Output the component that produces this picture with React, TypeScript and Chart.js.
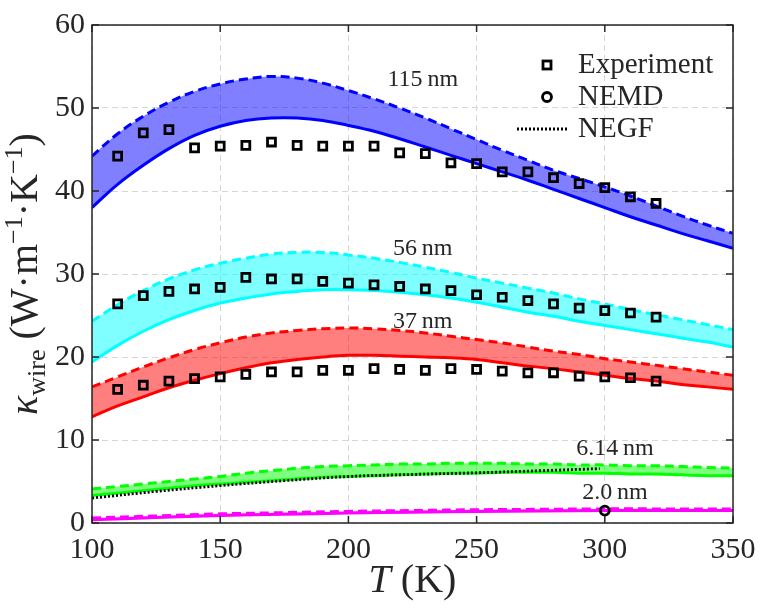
import React, { useEffect, useRef } from "react";
import { Chart, registerables } from "chart.js";
Chart.register(...registerables);

// ---- data ----
const T_GRID = [100, 110, 120, 130, 140, 150, 160, 170, 180, 190, 200, 210, 220, 230, 240, 250, 260, 270, 280, 290, 300, 310, 320, 330, 340, 350];

const K115_UPPER = [44.2, 46.9, 49.0, 50.7, 52.0, 52.9, 53.5, 53.8, 53.6, 53.0, 52.1, 51.1, 50.0, 48.8, 47.5, 46.2, 44.9, 43.7, 42.5, 41.5, 40.5, 39.4, 38.2, 37.0, 35.9, 34.9];
const K115_LOWER = [38.0, 40.8, 43.1, 45.1, 46.7, 47.8, 48.5, 48.8, 48.8, 48.5, 47.9, 47.2, 46.3, 45.3, 44.3, 43.3, 42.3, 41.3, 40.2, 39.1, 38.0, 36.9, 35.9, 34.9, 34.0, 33.1];

const K56_UPPER = [24.3, 26.3, 28.0, 29.4, 30.5, 31.3, 31.9, 32.4, 32.6, 32.6, 32.3, 31.9, 31.4, 30.8, 30.2, 29.5, 28.9, 28.3, 27.7, 27.0, 26.4, 25.7, 25.1, 24.5, 23.9, 23.3];
const K56_LOWER = [19.4, 21.4, 23.1, 24.5, 25.6, 26.5, 27.1, 27.6, 27.9, 28.1, 28.1, 28.0, 27.8, 27.5, 27.1, 26.6, 26.0, 25.4, 24.9, 24.3, 23.8, 23.3, 22.8, 22.3, 21.8, 21.2];

const K37_UPPER = [16.4, 17.6, 18.8, 19.9, 20.9, 21.7, 22.4, 22.9, 23.2, 23.4, 23.5, 23.4, 23.2, 22.9, 22.5, 22.1, 21.7, 21.2, 20.7, 20.3, 19.8, 19.4, 19.0, 18.6, 18.2, 17.8];
const K37_LOWER = [12.8, 14.1, 15.2, 16.3, 17.2, 18.0, 18.7, 19.3, 19.7, 20.0, 20.2, 20.2, 20.1, 20.0, 19.9, 19.7, 19.3, 18.9, 18.6, 18.2, 17.8, 17.4, 17.1, 16.7, 16.4, 16.1];

const K614_UPPER = [4.1, 4.4, 4.7, 5.0, 5.3, 5.6, 6.0, 6.3, 6.6, 6.8, 6.9, 7.0, 7.1, 7.1, 7.2, 7.2, 7.2, 7.1, 7.1, 7.0, 7.0, 6.9, 6.9, 6.8, 6.7, 6.6];
const K614_LOWER = [3.3, 3.6, 3.9, 4.2, 4.5, 4.7, 4.9, 5.1, 5.3, 5.5, 5.6, 5.7, 5.8, 5.9, 6.0, 6.0, 6.1, 6.1, 6.1, 6.0, 6.0, 5.9, 5.9, 5.8, 5.7, 5.7];

const T_2NM = [100, 125, 150, 175, 200, 225, 250, 275, 300, 325, 350];
const K2_UPPER = [0.6, 0.85, 1.1, 1.25, 1.4, 1.5, 1.6, 1.65, 1.7, 1.7, 1.7];
const K2_LOWER = [0.4, 0.65, 0.9, 1.05, 1.2, 1.3, 1.4, 1.45, 1.5, 1.5, 1.5];

const T_NEGF = [100, 125, 150, 175, 200, 225, 250, 275, 298];
const K_NEGF = [3.0, 3.8, 4.5, 5.1, 5.6, 5.85, 6.05, 6.3, 6.55];

const T_EXP = [110, 120, 130, 140, 150, 160, 170, 180, 190, 200, 210, 220, 230, 240, 250, 260, 270, 280, 290, 300, 310, 320];
const EXP_115 = [44.2, 47.0, 47.4, 45.2, 45.4, 45.5, 45.9, 45.5, 45.4, 45.4, 45.4, 44.6, 44.5, 43.4, 43.3, 42.3, 42.3, 41.6, 40.9, 40.4, 39.3, 38.5];
const EXP_56 = [26.4, 27.4, 27.9, 28.2, 28.4, 29.6, 29.4, 29.4, 29.1, 28.9, 28.7, 28.5, 28.2, 28.0, 27.5, 27.2, 26.8, 26.4, 25.9, 25.6, 25.3, 24.8];
const EXP_37 = [16.1, 16.6, 17.1, 17.4, 17.6, 17.9, 18.2, 18.2, 18.4, 18.4, 18.6, 18.5, 18.4, 18.6, 18.5, 18.3, 18.1, 18.1, 17.7, 17.6, 17.5, 17.1];

const T_NEMD = [300];
const K_NEMD = [1.5];

const X_TICKS = [100, 150, 200, 250, 300, 350];
const Y_TICKS = [0, 10, 20, 30, 40, 50, 60];

const LABELS = ["115\u2009nm", "56\u2009nm", "37\u2009nm", "6.14\u2009nm", "2.0\u2009nm"];
const LABEL_T = [229, 229, 229, 304, 304];
const LABEL_K = [53.4, 33.1, 24.3, 8.9, 3.6];

const LEGEND_NAMES = ["Experiment", "NEMD", "NEGF"];

// ---- styling ----
const FONT = '"Liberation Serif", "Times New Roman", serif';
const INK = "#262626";

const pts = (xs: number[], ys: number[]) => xs.map((x, i) => ({ x, y: ys[i] }));

function band(xs: number[], up: number[], lo: number[], color: string, fill: string, order: number) {
  return [
    {
      type: "line",
      data: pts(xs, up),
      borderColor: color,
      borderWidth: 3,
      borderDash: [9, 5],
      pointRadius: 0,
      fill: false,
      tension: 0.4,
      order,
    },
    {
      type: "line",
      data: pts(xs, lo),
      borderColor: color,
      backgroundColor: fill,
      borderWidth: 3,
      pointRadius: 0,
      fill: "-1",
      tension: 0.4,
      order: order + 1,
    },
  ];
}

function drawRich(ctx: CanvasRenderingContext2D, parts: any[]) {
  let total = 0;
  for (const p of parts) {
    ctx.font = `${p.italic ? "italic " : ""}${p.size}px ${FONT}`;
    p.w = ctx.measureText(p.t).width;
    total += p.w;
  }
  let x = -total / 2;
  for (const p of parts) {
    ctx.font = `${p.italic ? "italic " : ""}${p.size}px ${FONT}`;
    ctx.fillText(p.t, x, p.dy || 0);
    x += p.w;
  }
}

const decor = {
  id: "decor",
  afterDraw(chart: any) {
    const { ctx, chartArea: a, scales } = chart;
    const xs = scales.x;
    const ys = scales.y;
    ctx.save();
    // frame
    ctx.strokeStyle = INK;
    ctx.lineWidth = 1.5;
    ctx.setLineDash([]);
    ctx.strokeRect(a.left, a.top, a.right - a.left, a.bottom - a.top);
    // inward ticks
    ctx.beginPath();
    for (const v of X_TICKS) {
      const px = xs.getPixelForValue(v);
      ctx.moveTo(px, a.bottom);
      ctx.lineTo(px, a.bottom - 7);
      ctx.moveTo(px, a.top);
      ctx.lineTo(px, a.top + 7);
    }
    for (const v of Y_TICKS) {
      const py = ys.getPixelForValue(v);
      ctx.moveTo(a.left, py);
      ctx.lineTo(a.left + 7, py);
      ctx.moveTo(a.right, py);
      ctx.lineTo(a.right - 7, py);
    }
    ctx.stroke();

    // curve labels
    ctx.fillStyle = INK;
    ctx.font = `24px ${FONT}`;
    ctx.textAlign = "center";
    ctx.textBaseline = "middle";
    LABELS.forEach((s, i) => {
      ctx.fillText(s, xs.getPixelForValue(LABEL_T[i]), ys.getPixelForValue(LABEL_K[i]));
    });

    // legend
    ctx.textAlign = "left";
    ctx.font = `29px ${FONT}`;
    ctx.fillStyle = INK;
    const lx = 547;
    const rows = [65, 97, 129];
    LEGEND_NAMES.forEach((s, i) => ctx.fillText(s, 578, rows[i]));
    ctx.strokeStyle = "#000";
    ctx.lineWidth = 2.8;
    ctx.strokeRect(lx - 4, rows[0] - 4, 8, 8);
    ctx.beginPath();
    ctx.arc(lx, rows[1], 4.5, 0, Math.PI * 2);
    ctx.stroke();
    ctx.setLineDash([2, 2]);
    ctx.beginPath();
    ctx.moveTo(517, rows[2]);
    ctx.lineTo(568, rows[2]);
    ctx.stroke();
    ctx.setLineDash([]);

    // x title
    ctx.fillStyle = INK;
    ctx.textBaseline = "alphabetic";
    ctx.save();
    ctx.translate((a.left + a.right) / 2, 592);
    drawRich(ctx, [
      { t: "T", size: 40, italic: true },
      { t: " (K)", size: 40 },
    ]);
    ctx.restore();

    // y title
    ctx.save();
    ctx.translate(37, (a.top + a.bottom) / 2);
    ctx.rotate(-Math.PI / 2);
    drawRich(ctx, [
      { t: "\u03ba", size: 40, italic: true },
      { t: "wire", size: 26, dy: 8 },
      { t: " (W\u00b7m", size: 40 },
      { t: "\u22121", size: 26, dy: -15 },
      { t: "\u00b7K", size: 40 },
      { t: "\u22121", size: 26, dy: -15 },
      { t: ")", size: 40 },
    ]);
    ctx.restore();

    ctx.restore();
  },
};

function expSet(ys: number[]) {
  return {
    type: "line",
    data: pts(T_EXP, ys),
    showLine: false,
    pointStyle: "rect",
    pointRadius: 5.6,
    borderColor: "#000",
    backgroundColor: "rgba(0,0,0,0)",
    pointBorderWidth: 2.8,
    order: 0,
  };
}

export default function App() {
  const ref = useRef<HTMLCanvasElement | null>(null);
  useEffect(() => {
    if (!ref.current) return;
    const datasets: any[] = [
      expSet(EXP_115),
      expSet(EXP_56),
      expSet(EXP_37),
      {
        type: "line",
        data: pts(T_NEMD, K_NEMD),
        showLine: false,
        pointStyle: "circle",
        pointRadius: 4.5,
        borderColor: "#000",
        backgroundColor: "rgba(0,0,0,0)",
        pointBorderWidth: 2.8,
        order: 0,
      },
      {
        type: "line",
        data: pts(T_NEGF, K_NEGF),
        borderColor: "#000",
        borderWidth: 2.8,
        borderDash: [2, 2],
        pointRadius: 0,
        fill: false,
        tension: 0.4,
        order: 1,
      },
      ...band(T_GRID, K115_UPPER, K115_LOWER, "#0000ff", "rgba(0,0,255,0.5)", 10),
      ...band(T_GRID, K56_UPPER, K56_LOWER, "#00ffff", "rgba(0,255,255,0.5)", 12),
      ...band(T_GRID, K37_UPPER, K37_LOWER, "#ff0000", "rgba(255,0,0,0.5)", 14),
      ...band(T_GRID, K614_UPPER, K614_LOWER, "#00ff00", "rgba(0,255,0,0.5)", 16),
      ...band(T_2NM, K2_UPPER, K2_LOWER, "#ff00ff", "rgba(255,0,255,0.5)", 18),
    ];
    const chart = new Chart(ref.current, {
      type: "line",
      data: { datasets },
      options: {
        responsive: false,
        animation: false,
        devicePixelRatio: 1,
        layout: { padding: { left: 0, top: 25, right: 34, bottom: 0 } },
        plugins: { legend: { display: false }, tooltip: { enabled: false } },
        scales: {
          x: {
            type: "linear",
            min: 100,
            max: 350,
            afterFit: (s: any) => {
              s.height = 90;
            },
            afterBuildTicks: (s: any) => {
              s.ticks = X_TICKS.map((v) => ({ value: v }));
            },
            ticks: { font: { family: FONT, size: 30 }, color: INK, padding: 9, maxRotation: 0 },
            grid: { color: "#d6d6d6", lineWidth: 1, drawTicks: false },
            border: { display: false, dash: [6, 4] },
          },
          y: {
            type: "linear",
            min: 0,
            max: 60,
            afterFit: (s: any) => {
              s.width = 92;
            },
            afterBuildTicks: (s: any) => {
              s.ticks = Y_TICKS.map((v) => ({ value: v }));
            },
            ticks: { font: { family: FONT, size: 30 }, color: INK, padding: 7 },
            grid: { color: "#d6d6d6", lineWidth: 1, drawTicks: false },
            border: { display: false, dash: [6, 4] },
          },
        },
      },
      plugins: [decor],
    } as any);
    return () => chart.destroy();
  }, []);
  return (
    <div style={{ position: "absolute", left: 0, top: 0, width: 767, height: 613, background: "#fff" }}>
      <canvas ref={ref} width={767} height={613} style={{ display: "block" }} />
    </div>
  );
}
